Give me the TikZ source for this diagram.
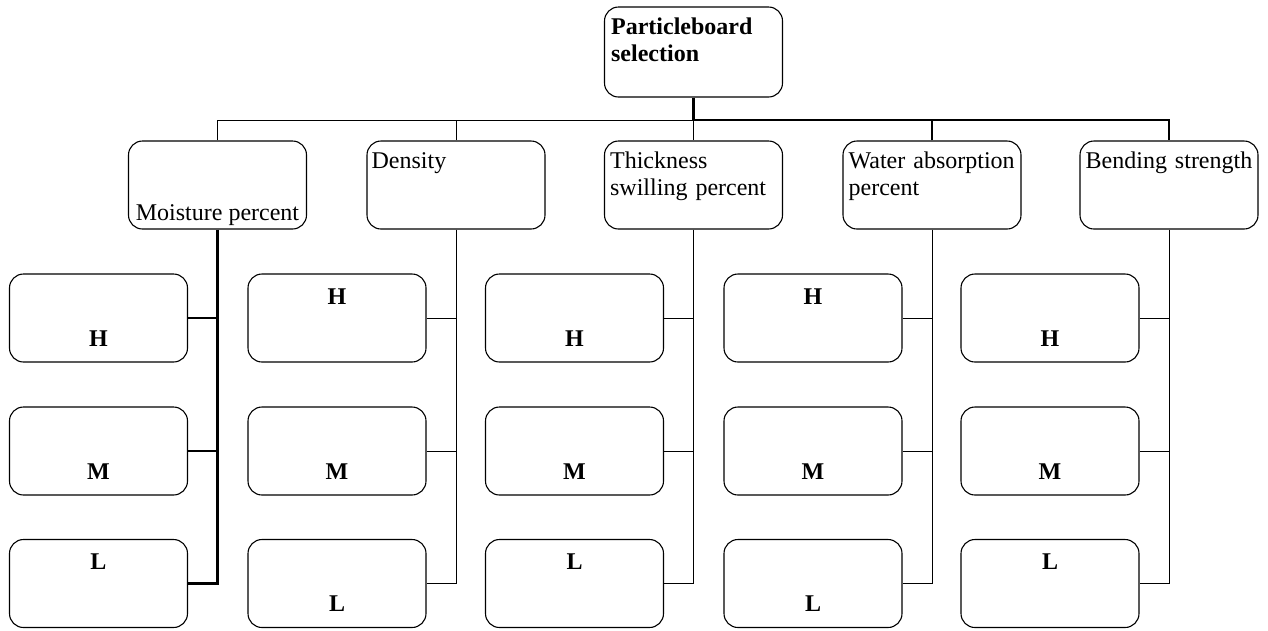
\documentclass[tikz,border=0pt]{standalone}
\usepackage{fontspec}
\setmainfont{Liberation Serif}
\begin{document}
\begin{tikzpicture}[x=1pt,y=-1pt,
  box/.style={draw, line width=1.1pt, rounded corners=14pt, minimum width=178pt, minimum height=88pt, inner sep=0pt},
  txt/.style={font=\fontsize{24}{27.5}\selectfont, inner sep=0pt},
  btxt/.style={inner sep=0pt, font=\fontsize{24}{27.5}\selectfont\bfseries},
  thn/.style={line width=1pt},
  thk/.style={line width=2.4pt},
]
\useasboundingbox (0,0) rectangle (1268,630);
% root
\node[box, minimum height=90pt] (root) at (693.5,52) {};
\node[btxt, anchor=base west, align=left, text width=172pt] (rootT) at ([shift={(7,28)}]root.north west) {Particleboard\\selection};
% criteria
\node[box] (c1) at (217.5,185) {};
\node[box] (c2) at (456,185) {};
\node[box] (c3) at (693.5,185) {};
\node[box] (c4) at (932,185) {};
\node[box] (c5) at (1169,185) {};
\node[txt, anchor=base] (c1T) at ([shift={(0,-9)}]c1.south) {Moisture percent};
\node[txt, anchor=base west, align=left, text width=172pt] (c2T) at ([shift={(5,28)}]c2.north west) {Density};
\node[txt, anchor=base west, align=left, text width=172pt] (c3T) at ([shift={(6,28)}]c3.north west) {Thickness\\swilling percent};
\node[txt, anchor=base west, align=left, text width=172pt] (c4T) at ([shift={(6,28)}]c4.north west) {Water absorption\\percent};
\node[txt, anchor=base west, align=left, text width=172pt] (c5T) at ([shift={(6,28)}]c5.north west) {Bending strength};
% top connectors
\coordinate (bar) at (693.5,120);
\draw[thk] (root.south) -- (root.south |- bar);
\draw[thn] (c1.north) |- (c3.north |- bar) -- (c3.north);
\draw[thn] (c2.north) -- (c2.north |- bar);
\draw[thk] (root.south |- bar) -| (c5.north);
\draw[thk] (c4.north) -- (c4.north |- bar);
% leaves
\foreach \i/\x/\oh/\om/\ol/\st in {1/217.5/28/28/-14/thk, 2/456/-14/28/28/thn, 3/693.5/28/28/-14/thn, 4/932/-14/28/28/thn, 5/1169/28/28/-14/thn} {
  \node[box] (c\i-h) at (\x-119,318) {};
  \node[box] (c\i-m) at (\x-119,451) {};
  \node[box] (c\i-l) at (\x-119,583.5) {};
  \node[btxt, anchor=base] (c\i-hT) at ([shift={(0,\oh)}]c\i-h.center) {H};
  \node[btxt, anchor=base] (c\i-mT) at ([shift={(0,\om)}]c\i-m.center) {M};
  \node[btxt, anchor=base] (c\i-lT) at ([shift={(0,\ol)}]c\i-l.center) {L};
  \draw[\st] (c\i.south) |- (c\i-l.east);
  \draw[\st] (c\i-h.east) -- (c\i-h.east -| c\i.south);
  \draw[\st] (c\i-m.east) -- (c\i-m.east -| c\i.south);
}
\end{tikzpicture}
\end{document}
